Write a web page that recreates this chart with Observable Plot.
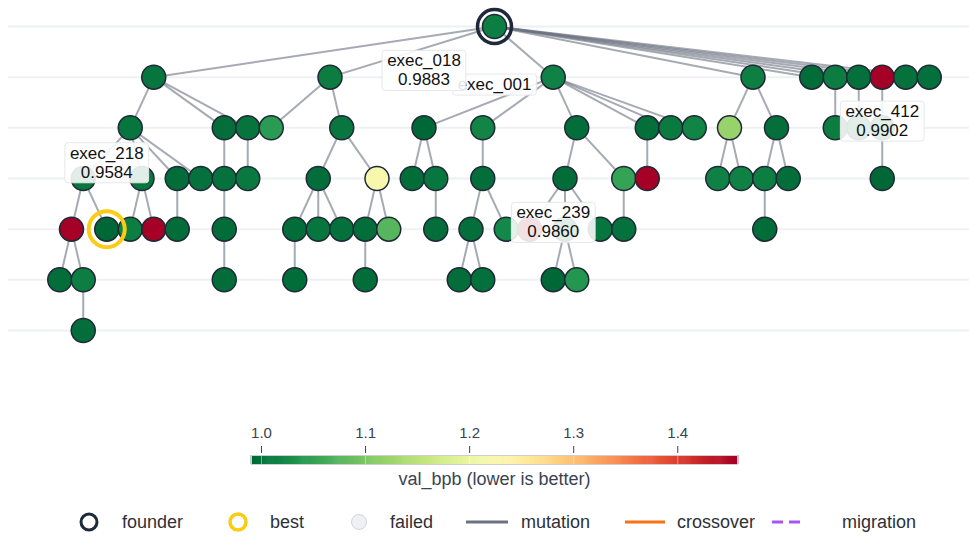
<!DOCTYPE html>
<html><head><meta charset="utf-8">
<script src="https://cdn.jsdelivr.net/npm/d3@7"></script>
<script src="https://cdn.jsdelivr.net/npm/@observablehq/plot@0.6"></script>
<style>
html,body{margin:0;padding:0;background:#fff;}
body{width:969px;height:537px;overflow:hidden;font-family:"Liberation Sans",Arial,sans-serif;}
#chart svg,#colorbar svg,#legend svg{display:block;}
</style></head><body>
<div id="chart"></div><div id="colorbar"></div><div id="legend"></div>
<script>
// ---------------- data ----------------
const nodeIds = [
  "exec_001",
  "n101","n102","n103","n104","n105","n106","n107","n108","n109","n110",
  "n201","n202","n203","n204","n205","exec_018","n207","n208","n209","n210","n211","n212","n213","n214","n215","n216",
  "n301","n302","n303","n304","n305","n306","n307","n308","n309","n310","n311","n312","n313","n314","n315","n316","n317","n318","exec_412",
  "n401","exec_218","n403","n404","n405","n406","n407","n408","n409","n410","n411","n412","n413","n414","n415","n416","n417","n418","n419",
  "n501","n502","n503","n504","n505","n506","n507","exec_239","n509",
  "n601"
];
const parentIds = [
  null,
  "exec_001","exec_001","exec_001","exec_001","exec_001","exec_001","exec_001","exec_001","exec_001","exec_001",
  "n101","n101","n101","n102","n102","n103","n103","n103","n103","n103","n103","n104","n104","n106","n107","n108",
  "n201","n201","n201","n201","n202","n203","n205","n205","exec_018","exec_018","n207","n208","n208","n209","n212","n212","n213","n213","n216",
  "n301","n301","n302","n302","n303","n305","n307","n307","n307","n308","n308","n310","n311","n311","n312","n312","n312","n313","n317",
  "n401","n401","n406","n407","n410","n413","n413","n416","n416",
  "n502"
];
const generation = [
  0,
  1,1,1,1,1,1,1,1,1,1,
  2,2,2,2,2,2,2,2,2,2,2,2,2,2,2,2,
  3,3,3,3,3,3,3,3,3,3,3,3,3,3,3,3,3,3,3,
  4,4,4,4,4,4,4,4,4,4,4,4,4,4,4,4,4,4,4,
  5,5,5,5,5,5,5,5,5,
  6
];
// horizontal layout position (in node-width units, founder = 0)
const slot = [
  0,
  -14.5,-7,2.5,11,13.5,14.5,15.5,16.5,17.5,18.5,
  -15.5,-11.5,-10.5,-9.5,-6.5,-3,-0.5,3.5,6.5,7.5,8.5,10,12,14.5,15.5,16.5,
  -17.5,-15,-13.5,-12.5,-11.5,-10.5,-7.5,-5,-3.5,-2.5,-0.5,3,5.5,6.5,9.5,10.5,11.5,12.5,16.5,
  -18,-16.5,-15.5,-14.5,-13.5,-11.5,-8.5,-7.5,-6.5,-5.5,-4.5,-2.5,-1,0.5,1.5,3,4.5,5.5,11.5,
  -18.5,-17.5,-11.5,-8.5,-5.5,-1.5,-0.5,2.5,3.5,
  -17.5
];
const valBpb = [
  1.012,
  1.003,1.010,1.016,1.013,0.995,1.010,0.998,1.470,1.000,0.998,
  1.003,0.996,1.002,1.043,1.004,0.9883,1.018,0.996,0.997,1.008,1.018,1.120,0.997,1.010,1.000,1.000,
  1.004,1.005,0.995,0.999,0.999,1.007,0.996,1.220,0.995,1.005,0.996,0.995,1.052,1.470,1.015,1.015,1.012,0.996,0.9902,
  1.470,0.9584,1.012,1.470,0.995,0.995,0.995,1.003,0.998,0.996,1.075,0.996,0.997,1.022,1.470,1.000,1.003,0.999,0.995,
  0.996,1.012,0.995,0.995,0.995,0.996,0.998,0.9860,1.038,
  0.996
];
const founderId = "exec_001";
const bestId = "exec_218";
const labelIds = ["exec_001","exec_018","exec_218","exec_239","exec_412"];
const colorDomain = [0.9904, 1.4574];
const colorTicks = [1.0, 1.1, 1.2, 1.3, 1.4];
const colorTitle = "val_bpb (lower is better)";
const legendItems = [
  {key:"founder", label:"founder"},
  {key:"best", label:"best"},
  {key:"failed", label:"failed"},
  {key:"mutation", label:"mutation"},
  {key:"crossover", label:"crossover"},
  {key:"migration", label:"migration"}
];

// ---------------- build ----------------
const FONT = '"Liberation Sans", Arial, sans-serif';
const W = 969;
const unitPx = 23.5, originPx = 494;
const rowTop = 26, rowBottom = 330;
const nodes = nodeIds.map((id, i) => ({id, parent: parentIds[i], gen: generation[i], slot: slot[i], val: valBpb[i]}));
const byId = new Map(nodes.map(d => [d.id, d]));
const edges = nodes.filter(d => d.parent).map(d => ({s: byId.get(d.parent), t: d}));
const maxGen = d3.max(generation);
const rowPx = (rowBottom - rowTop) / maxGen;
const labelShift = id => id === founderId ? 57.5 : id === bestId ? -67 : -58;
const labels = labelIds.map(id => {
  const d = byId.get(id);
  return {slot: d.slot, gy: d.gen + labelShift(id) / rowPx,
          text: id === founderId ? id : `${id}\n${d.val.toFixed(4)}`};
});
const colorOpts = {type: "linear", scheme: "RdYlGn", reverse: true, domain: colorDomain, clamp: true};

const chart = Plot.plot({
  width: W, height: 410,
  marginLeft: 8, marginRight: 0, marginTop: 0, marginBottom: 0,
  style: {fontFamily: FONT, background: "#fff"},
  x: {domain: [-originPx / unitPx, (W - originPx) / unitPx], range: [0, W], axis: null},
  y: {domain: [0, maxGen], range: [rowTop, rowBottom], axis: null},
  color: colorOpts,
  marks: [
    Plot.ruleY(d3.range(0, maxGen + 1), {stroke: "#eef0f3", strokeWidth: 2}),
    Plot.link(edges, {x1: d => d.s.slot, y1: d => d.s.gen, x2: d => d.t.slot, y2: d => d.t.gen,
      stroke: "#6b7280", strokeOpacity: 0.6, strokeWidth: 2}),
    Plot.dot(nodes, {x: "slot", y: "gen", r: 12, fill: "val", stroke: "#1f2937", strokeWidth: 1.5}),
    Plot.dot(nodes.filter(d => d.id === founderId), {x: "slot", y: "gen", r: 17, fill: "none", stroke: "#1e293b", strokeWidth: 3.5}),
    Plot.dot(nodes.filter(d => d.id === bestId), {x: "slot", y: "gen", r: 18, fill: "none", stroke: "#facc15", strokeWidth: 4}),
    Plot.text(labels, {x: "slot", y: "gy", text: "text", fontSize: 17, lineHeight: 1.12, fill: "#111111"})
  ]
});
document.getElementById("chart").append(chart);

// label boxes behind each label text
chart.querySelectorAll('g[aria-label="text"] text').forEach(t => {
  const b = t.getBBox();
  const r = document.createElementNS("http://www.w3.org/2000/svg", "rect");
  r.setAttribute("x", b.x - 5); r.setAttribute("y", b.y - 1);
  r.setAttribute("width", b.width + 10); r.setAttribute("height", b.height + 2);
  r.setAttribute("rx", 3);
  r.setAttribute("fill", "#ffffff"); r.setAttribute("fill-opacity", 0.88);
  r.setAttribute("stroke", "#e5e7eb"); r.setAttribute("stroke-width", 1);
  if (t.getAttribute("transform")) r.setAttribute("transform", t.getAttribute("transform"));
  t.parentNode.insertBefore(r, t);
});

// colorbar
const ramp = d3.range(0, 501).map(i => colorDomain[0] + (colorDomain[1] - colorDomain[0]) * i / 500);
const colorbar = Plot.plot({
  width: W, height: 90,
  marginLeft: 251, marginRight: 232, marginTop: 45, marginBottom: 36,
  style: {fontFamily: FONT, background: "#fff"},
  x: {domain: colorDomain, axis: null},
  color: colorOpts,
  marks: [
    Plot.ruleX(ramp, {x: d => d, stroke: d => d, strokeWidth: 1.6}),
    Plot.ruleX(colorTicks, {stroke: "#ffffff", strokeOpacity: 0.45}),
    Plot.frame({stroke: "#d0d0d0"}),
    Plot.ruleX(colorTicks, {stroke: "#444", dy: -9, insetBottom: 2}),
    Plot.axisX({anchor: "top", ticks: colorTicks, tickFormat: d3.format(".1f"), tickSize: 0, tickPadding: 18, fontSize: 15, color: "#3b4252"}),
    Plot.text([colorTitle], {frameAnchor: "bottom", dy: 20, fontSize: 18, fill: "#3b4252"})
  ]
});
document.getElementById("colorbar").append(colorbar);

// legend
const lg = d3.create("svg").attr("width", W).attr("height", 37)
  .style("font-family", FONT);
const cy = 22;
const pos = {founder: [89, 122], best: [238, 270], failed: [359, 390], mutation: [487, 521], crossover: [645, 677], migration: [786, 842]};
legendItems.forEach(it => {
  const [sx, tx] = pos[it.key];
  const g = lg.append("g");
  if (it.key === "founder") g.append("circle").attr("cx", sx).attr("cy", cy).attr("r", 8).attr("fill", "none").attr("stroke", "#1e293b").attr("stroke-width", 3);
  if (it.key === "best") g.append("circle").attr("cx", sx).attr("cy", cy).attr("r", 8).attr("fill", "none").attr("stroke", "#facc15").attr("stroke-width", 3.5);
  if (it.key === "failed") g.append("circle").attr("cx", sx).attr("cy", cy).attr("r", 7.5).attr("fill", "#eef0f3").attr("stroke", "#d1d5db").attr("stroke-width", 1);
  if (it.key === "mutation") g.append("line").attr("x1", sx - 21).attr("x2", sx + 21).attr("y1", cy).attr("y2", cy).attr("stroke", "#6b7280").attr("stroke-width", 3);
  if (it.key === "crossover") g.append("line").attr("x1", sx - 20).attr("x2", sx + 20).attr("y1", cy).attr("y2", cy).attr("stroke", "#f97316").attr("stroke-width", 3);
  if (it.key === "migration") g.append("line").attr("x1", sx - 14).attr("x2", sx + 14).attr("y1", cy).attr("y2", cy).attr("stroke", "#a855f7").attr("stroke-width", 3).attr("stroke-dasharray", "11,6");
  g.append("text").attr("x", tx).attr("y", cy).attr("dy", "0.35em").attr("font-size", 18).attr("fill", "#2d3038").text(it.label);
});
document.getElementById("legend").append(lg.node());
</script>
</body></html>
